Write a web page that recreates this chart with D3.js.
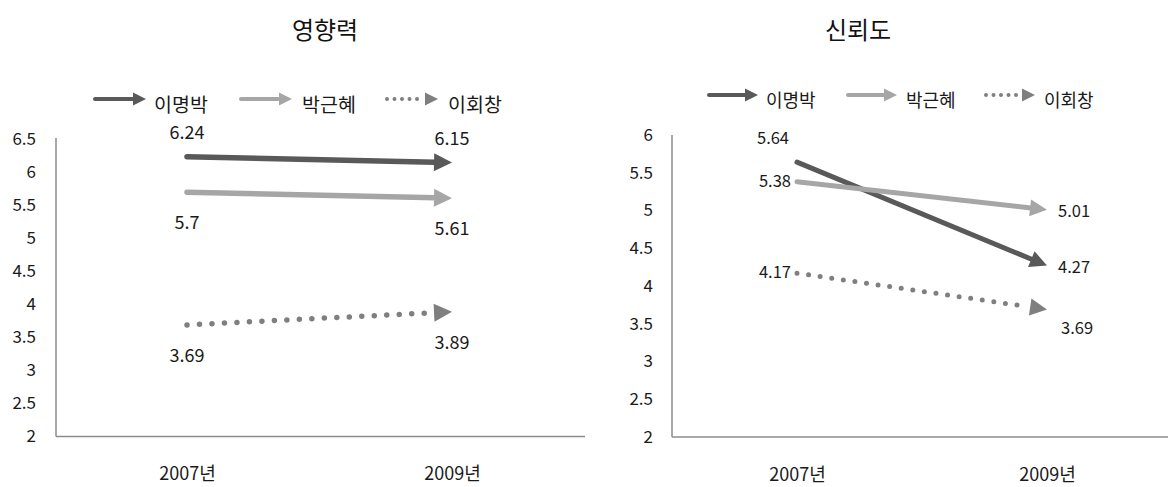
<!DOCTYPE html>
<html>
<head>
<meta charset="utf-8">
<script src="https://cdn.jsdelivr.net/npm/d3@7"></script>
<style>
  body { margin: 0; background: #fff; }
  svg { display: block; }
  text { font-family: "Noto Sans CJK KR", "Noto Sans", sans-serif; fill: #1a1a1a; }
</style>
</head>
<body>
<svg id="chart" width="1168" height="487"></svg>
<script>
// ---- data ----
const categories = ["2007년", "2009년"];
const candidates = ["이명박", "박근혜", "이회창"];
const influenceValues = [[6.24, 6.15], [5.7, 5.61], [3.69, 3.89]];
const trustValues = [[5.64, 4.27], [5.38, 5.01], [4.17, 3.69]];
const influenceTicks = [2, 2.5, 3, 3.5, 4, 4.5, 5, 5.5, 6, 6.5];
const trustTicks = [2, 2.5, 3, 3.5, 4, 4.5, 5, 5.5, 6];
const panelTitles = ["영향력", "신뢰도"];
// where each value label sits relative to its point
const influenceLabelPlacement = [["above", "above"], ["below", "below"], ["below", "below"]];
const trustLabelPlacement = [["aboveLeft", "right"], ["left", "right"], ["left", "belowRight"]];

// ---- styles ----
const seriesColors = ["#595959", "#a6a6a6", "#7f7f7f"];
const seriesDotted = [false, false, true];

const svg = d3.select("#chart");

const panels = [
  {
    title: panelTitles[0], titleX: 325,
    values: influenceValues, ticks: influenceTicks, placement: influenceLabelPlacement,
    axisX: 56, plotRight: 585, axisTop: 138,
    xRange: [187, 452], yDomain: [2, 6.5], yRange: [436.5, 139.5],
    tickFont: 17, tickPad: 20, labelFont: 18, catFont: 18,
    stroke: 5.5, head: 18, headW: 18, dotGap: 12.5,
    legendY: 99, legendX: [95, 241, 387], legendLen: 51, legendTextX: [154, 302, 448], legendFont: 19.5,
    offsets: { above: [0, -26, "middle"], below: [0, 29, "middle"] }
  },
  {
    title: panelTitles[1], titleX: 858,
    values: trustValues, ticks: trustTicks, placement: trustLabelPlacement,
    axisX: 672, plotRight: 1168, axisTop: 135,
    xRange: [797, 1047], yDomain: [2, 6], yRange: [437, 135],
    tickFont: 17, tickPad: 19, labelFont: 16.5, catFont: 18,
    stroke: 5, head: 17, headW: 17, dotGap: 11.7,
    legendY: 95, legendX: [709, 848, 986], legendLen: 49, legendTextX: [766, 906, 1044], legendFont: 18,
    offsets: {
      aboveLeft: [-24, -25, "middle"], left: [-6, -2, "end"],
      right: [11, 0, "start"], belowRight: [14, 18, "start"]
    }
  }
];

// line with a triangular head whose tip sits on p1
function drawArrow(g, p0, p1, color, dotted, width, head, headW, dotGap) {
  const dx = p1[0] - p0[0], dy = p1[1] - p0[1];
  const len = Math.hypot(dx, dy);
  const ux = dx / len, uy = dy / len;
  const bx = p1[0] - ux * head, by = p1[1] - uy * head;
  const line = g.append("line")
    .attr("x1", p0[0]).attr("y1", p0[1])
    .attr("x2", dotted ? bx - ux * 3 : bx + ux * 1).attr("y2", dotted ? by - uy * 3 : by + uy * 1)
    .attr("stroke", color)
    .attr("stroke-width", width)
    .attr("stroke-linecap", "round");
  if (dotted) line.attr("stroke-dasharray", `0 ${dotGap}`);
  const px = -uy, py = ux;
  g.append("path")
    .attr("d", d3.line()([
      [p1[0], p1[1]],
      [bx + px * headW / 2, by + py * headW / 2],
      [bx - px * headW / 2, by - py * headW / 2]
    ]) + "Z")
    .attr("fill", color);
}

panels.forEach(p => {
  const g = svg.append("g");
  const x = d3.scalePoint().domain(categories).range(p.xRange);
  const y = d3.scaleLinear().domain(p.yDomain).range(p.yRange);
  const base = y(p.yDomain[0]);

  // title
  g.append("text")
    .attr("x", p.titleX).attr("y", 28)
    .attr("text-anchor", "middle").attr("dominant-baseline", "central")
    .style("font-size", "24px").style("fill", "#111")
    .text(p.title);

  // y axis labels
  const yAxis = g.append("g")
    .attr("transform", `translate(${p.axisX},0)`)
    .call(d3.axisLeft(y).tickValues(p.ticks).tickSize(0).tickPadding(p.tickPad).tickFormat(d => String(d)));
  yAxis.select(".domain").remove();
  yAxis.selectAll("text").style("font-size", p.tickFont + "px").style("font-family", null).style("fill", "#1a1a1a");

  // category labels
  const xAxis = g.append("g")
    .attr("transform", `translate(0,${base})`)
    .call(d3.axisBottom(x).tickSize(0).tickPadding(31));
  xAxis.select(".domain").remove();
  xAxis.selectAll("text").style("font-size", p.catFont + "px").style("font-family", null).style("fill", "#1a1a1a");

  // axis lines
  g.append("line")
    .attr("x1", p.axisX).attr("x2", p.axisX)
    .attr("y1", p.axisTop).attr("y2", base)
    .attr("stroke", "#8c8c8c").attr("stroke-width", 1.5);
  g.append("line")
    .attr("x1", p.axisX).attr("x2", p.plotRight)
    .attr("y1", base).attr("y2", base)
    .attr("stroke", "#8c8c8c").attr("stroke-width", 1.5);

  // series arrows
  p.values.forEach((vals, i) => {
    const p0 = [x(categories[0]), y(vals[0])];
    const p1 = [x(categories[1]), y(vals[1])];
    drawArrow(g, p0, p1, seriesColors[i], seriesDotted[i], p.stroke, p.head, p.headW, p.dotGap);
  });

  // value labels
  p.values.forEach((vals, i) => {
    vals.forEach((v, j) => {
      const off = p.offsets[p.placement[i][j]];
      g.append("text")
        .attr("x", x(categories[j]) + off[0])
        .attr("y", y(v) + off[1])
        .attr("text-anchor", off[2])
        .attr("dominant-baseline", "central")
        .style("font-size", p.labelFont + "px")
        .text(v);
    });
  });

  // legend
  candidates.forEach((name, i) => {
    const x0 = p.legendX[i];
    drawArrow(g, [x0, p.legendY], [x0 + p.legendLen, p.legendY],
      seriesColors[i], seriesDotted[i], 4, 13, 13, 7.5);
    g.append("text")
      .attr("x", p.legendTextX[i]).attr("y", p.legendY + 4)
      .attr("dominant-baseline", "central")
      .style("font-size", p.legendFont + "px")
      .text(name);
  });
});
</script>
</body>
</html>
